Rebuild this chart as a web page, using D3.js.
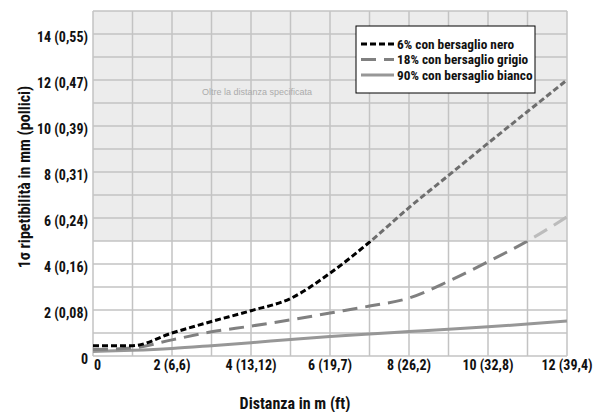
<!DOCTYPE html>
<html>
<head>
<meta charset="utf-8">
<script src="https://cdn.jsdelivr.net/npm/d3@7"></script>
<style>
  body { margin: 0; background: #fff; }
  .narrow { font-family: "Roboto Condensed", "Liberation Sans", Arial, sans-serif; font-weight: bold; }
</style>
</head>
<body>
<div id="chart"></div>
<script>
// distances in m
const distances = [0, 1, 2, 3, 4, 5, 6, 7, 8, 9, 10, 11, 12];
// 1 sigma repeatability in mm
const black6  = [0.45, 0.45, 1.0, 1.5, 1.97, 2.5, 3.6, 4.95, 6.45, 7.85, 9.25, 10.63, 12.0];
const grey18  = [0.28, 0.35, 0.7, 1.05, 1.3, 1.57, 1.87, 2.17, 2.52, 3.25, 4.1, 5.0, 6.05];
const white90 = [0.2, 0.25, 0.33, 0.45, 0.58, 0.72, 0.85, 0.96, 1.06, 1.16, 1.27, 1.39, 1.52];

const xTicks = [0, 2, 4, 6, 8, 10, 12];
const xTickLabels = ["0", "2 (6,6)", "4 (13,12)", "6 (19,7)", "8 (26,2)", "10 (32,8)", "12 (39,4)"];
const yTicks = [0, 2, 4, 6, 8, 10, 12, 14];
const yTickLabels = ["0", "2 (0,08)", "4 (0,16)", "6 (0,24)", "8 (0,31)", "10 (0,39)", "12 (0,47)", "14 (0,55)"];
const specLimit = 5;   // beyond this value: outside the specified distance

const seriesNames = ["6% con bersaglio nero", "18% con bersaglio grigio", "90% con bersaglio bianco"];

let width  = 595,
	height = 412,
	margin = {top: 11, right: 28, bottom: 56, left: 93};

let x = d3.scaleLinear().domain([0, 12]).range([margin.left, width - margin.right]),
	y = d3.scaleLinear().domain([0, 15]).range([height - margin.bottom, margin.top]);

let series = [
	{name: seriesNames[0], values: black6,  color: "#000",    light: "#6e6e6e", dash: "6,3"},
	{name: seriesNames[1], values: grey18,  color: "#808080", light: "#bcbcbc", dash: "15,8"},
	{name: seriesNames[2], values: white90, color: "#979797", light: "#c8c8c8", dash: null}
];

let svg = d3.select("#chart").append("svg")
	.attr("width", width)
	.attr("height", height);

let defs = svg.append("defs");
defs.append("clipPath").attr("id", "clip-below")
	.append("rect")
	.attr("x", x(0)).attr("y", y(specLimit))
	.attr("width", x(12) - x(0) + 3).attr("height", y(0) - y(specLimit) + 3);
defs.append("clipPath").attr("id", "clip-above")
	.append("rect")
	.attr("x", x(0)).attr("y", y(15))
	.attr("width", x(12) - x(0) + 3).attr("height", y(specLimit) - y(15));

// shaded region, beyond specification
svg.append("rect")
	.attr("x", x(0))
	.attr("y", y(15))
	.attr("width", x(12) - x(0))
	.attr("height", y(specLimit) - y(15))
	.style("fill", "#ececec");

// grid
let grid = svg.append("g").attr("class", "grid");
grid.selectAll("line.v")
	.data(d3.range(0, 13))
	.enter().append("line")
	.attr("class", "v")
	.attr("x1", d => x(d)).attr("x2", d => x(d))
	.attr("y1", y(15)).attr("y2", y(0))
	.style("stroke", "#c3c3c3")
	.style("stroke-width", 1.5);
grid.selectAll("line.h")
	.data(d3.range(0, 16))
	.enter().append("line")
	.attr("class", "h")
	.attr("x1", x(0)).attr("x2", x(12))
	.attr("y1", d => y(d)).attr("y2", d => y(d))
	.style("stroke", "#c3c3c3")
	.style("stroke-width", 1.5);

svg.append("text")
	.attr("x", (x(0) + x(12)) / 2 - 73)
	.attr("y", y(11.35))
	.attr("text-anchor", "middle")
	.style("font-family", "'Liberation Sans', Arial, sans-serif")
	.style("font-size", "9px")
	.style("fill", "#ababab")
	.text("Oltre la distanza specificata");

// lines
let line = d3.line()
	.x((d, i) => x(distances[i]))
	.y(d => y(d))
	.curve(d3.curveMonotoneX);

let lines = svg.append("g").attr("class", "lines");
series.slice().reverse().forEach(function (s) {
	[["clip-below", s.color], ["clip-above", s.light]].forEach(function (c) {
		lines.append("path")
			.datum(s.values)
			.attr("clip-path", `url(#${c[0]})`)
			.attr("d", line)
			.style("fill", "none")
			.style("stroke", c[1])
			.style("stroke-width", 3)
			.style("stroke-dasharray", s.dash);
	});
});

// x tick labels
svg.append("g").selectAll("text")
	.data(xTicks)
	.enter().append("text")
	.attr("class", "narrow")
	.attr("x", d => x(d) + (d === 0 ? 1 : 0))
	.attr("y", y(0) + 14)
	.attr("text-anchor", d => d === 0 ? "start" : "middle")
	.style("font-size", "14px")
	.style("fill", "#111")
	.text((d, i) => xTickLabels[i]);

// y tick labels
svg.append("g").selectAll("text")
	.data(yTicks)
	.enter().append("text")
	.attr("class", "narrow")
	.attr("x", x(0) - 5)
	.attr("y", d => y(d) + 8)
	.attr("text-anchor", "end")
	.style("font-size", "14px")
	.style("fill", "#111")
	.text((d, i) => yTickLabels[i]);

// axis titles
svg.append("text")
	.attr("class", "narrow")
	.attr("x", 295)
	.attr("y", 409)
	.attr("text-anchor", "middle")
	.style("font-size", "16px")
	.style("fill", "#111")
	.text("Distanza in m (ft)");

svg.append("text")
	.attr("class", "narrow")
	.attr("transform", "translate(30,177) rotate(-90)")
	.attr("text-anchor", "middle")
	.style("font-size", "16px")
	.style("fill", "#111")
	.text("1σ ripetibilità in mm (pollici)");

// legend
let legend = svg.append("g")
	.attr("class", "legend")
	.attr("transform", "translate(356,26)");
legend.append("rect")
	.attr("width", 179)
	.attr("height", 67)
	.style("fill", "#fff")
	.style("stroke", "#000")
	.style("stroke-width", 1);
let legendRows = legend.selectAll(".legend-row")
	.data(series).enter().append("g")
	.attr("class", "legend-row")
	.attr("transform", (d, i) => `translate(0, ${18 + i * 15.5})`);
legendRows.append("line")
	.attr("x1", 5).attr("x2", 38)
	.style("stroke", d => d.color)
	.style("stroke-width", 3)
	.style("stroke-dasharray", d => d.dash);
legendRows.append("text")
	.attr("class", "narrow")
	.attr("x", 41)
	.attr("y", 4.8)
	.style("font-size", "13.3px")
	.style("fill", "#111")
	.text(d => d.name);
</script>
</body>
</html>
